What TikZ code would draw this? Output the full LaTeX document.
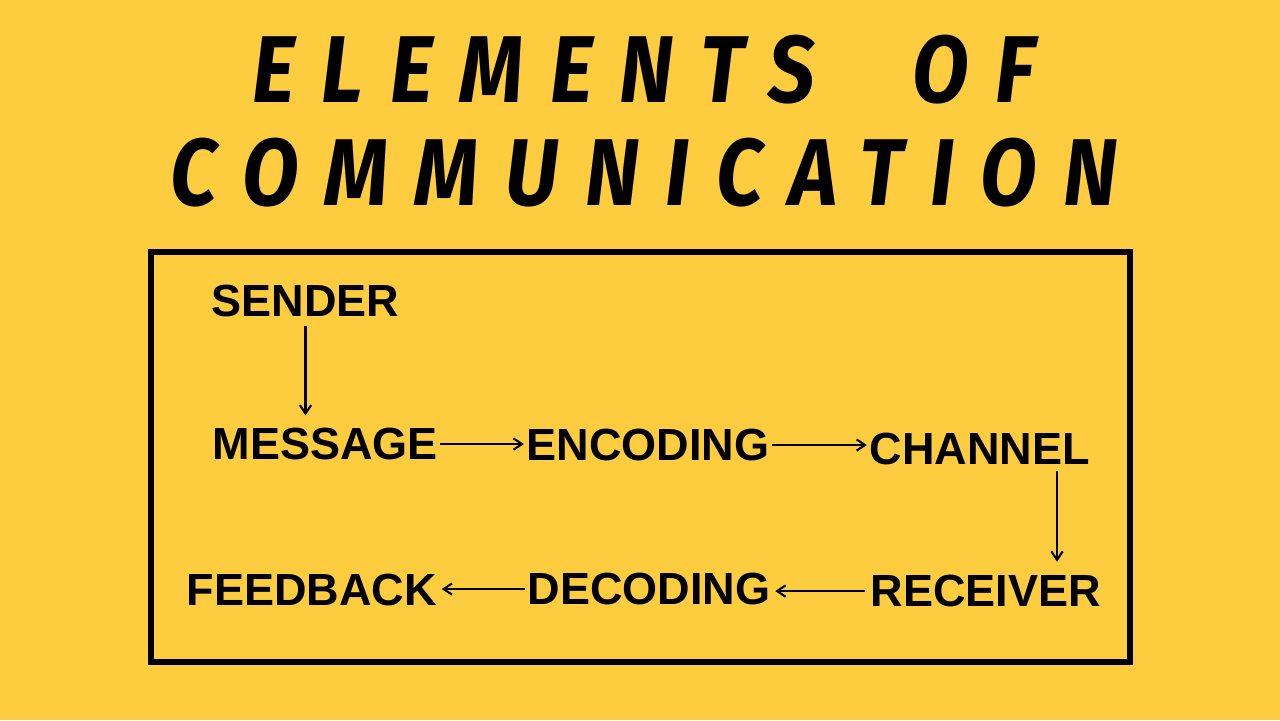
\documentclass[tikz,border=0pt]{standalone}
\usepackage{fontspec}
\setmainfont{Liberation Sans}
\newfontfamily\titlefont[FakeStretch=0.87,LetterSpace=28]{Fira Sans}
\usetikzlibrary{positioning,arrows.meta,calc}
\definecolor{bgyellow}{RGB}{254,204,63}

\tikzset{
    element/.style={inner sep=0pt,anchor=west,font=\fontsize{12.8}{14}\selectfont\bfseries},
    flow/.style={-{Straight Barb[length=2.4pt,width=3.2pt]},line width=0.6pt},
    headline/.style={inner sep=0pt,anchor=base west,font=\titlefont\fontsize{27}{29}\selectfont\bfseries\itshape}
}

\begin{document}
\begin{tikzpicture}[x=0.01cm,y=-0.01cm]
    % Background
    \fill[bgyellow] (0,0) rectangle (1280,720);
    \useasboundingbox (0,0) rectangle (1280,720);

    % Title
    \node[headline] (title1) at (252,102) {ELEMENTS \hspace{0.55em}OF};
    \node[headline] (title2) at (170,205) {COMMUNICATION};

    % Frame
    \draw[line width=1.7pt] (151,252) rectangle (1130,662);

    % Elements
    \node[element] (sender) at (211,301) {SENDER};
    \node[element] (message) at (212,444) {MESSAGE};
    \node[element] (encoding) at (526,445) {ENCODING};
    \node[element] (channel) at (869,449) {CHANNEL};
    \node[element] (receiver) at (870,591) {RECEIVER};
    \node[element] (decoding) at (527,589) {DECODING};
    \node[element] (feedback) at (186,590) {FEEDBACK};

    % Flow
    \coordinate (drop) at (1057,0);
    \draw[flow,shorten <=2.3pt,shorten >=3.4pt] (sender.south) -- (sender.south |- message.north);
    \draw[flow,shorten <=0.5pt,shorten >=0.6pt] (message.east) -- (message.east -| encoding.west);
    \draw[flow,shorten <=0.6pt,shorten >=0.6pt] (encoding.east) -- (encoding.east -| channel.west);
    \draw[flow,shorten <=1.5pt,shorten >=3.6pt] (channel.south -| drop) -- (drop |- receiver.north);
    \draw[flow,shorten <=1.5pt,shorten >=1.2pt] (receiver.west) -- (receiver.west -| decoding.east);
    \draw[flow,shorten <=0.6pt,shorten >=1.2pt] (decoding.west) -- (decoding.west -| feedback.east);
\end{tikzpicture}
\end{document}
